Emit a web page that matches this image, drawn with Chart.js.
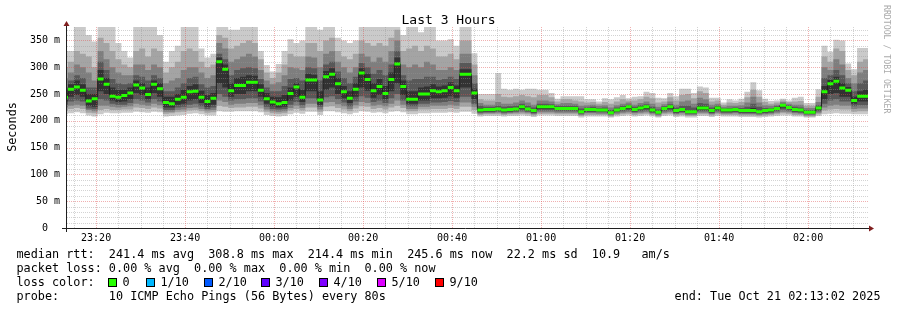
<!DOCTYPE html>
<html><head><meta charset="utf-8">
<script src="https://cdn.jsdelivr.net/npm/chart.js@4/dist/chart.umd.min.js"></script>
<style>html,body{margin:0;padding:0;background:#fff;}canvas{display:block;}</style>
</head><body>
<canvas id="c" width="897" height="310"></canvas>
<script>
// ---------- text ----------
const chartTitle = 'Last 3 Hours';
const yAxisTitle = 'Seconds';
const watermark = 'RRDTOOL / TOBI OETIKER';
// ---------- axes (x in minutes relative to 00:00 on Oct 21) ----------
const xAxisMin = -46.54, xAxisMax = 133.46;
const xTicks = [-40, -20, 0, 20, 40, 60, 80, 100, 120];
const xTickLabels = ['23:20', '23:40', '00:00', '00:20', '00:40', '01:00', '01:20', '01:40', '02:00'];
const yAxisMax = 375;
const yTicks = [0, 50, 100, 150, 200, 250, 300, 350];
const yTickLabels = ['0  ', '50 m', '100 m', '150 m', '200 m', '250 m', '300 m', '350 m'];
const firstSampleStart = -47.65;   // minutes, start of first (partial) 80 s sample
const sampleMinutes = 80 / 60;
// ---------- series (ms), one value per 80 s sample ----------
const median = [
244,259,263,257,237,241,278,268,246,244, 247,252,267,261,249,268,260,234,232,240,
244,254,255,244,236,242,310,296,256,266, 266,272,272,257,241,235,232,234,251,263,
244,276,276,239,282,287,269,254,242,259, 289,277,256,264,251,277,306,264,240,240,
250,250,256,254,256,262,256,287,287,252, 220,221,221,222,220,221,222,226,222,219,
226,226,226,223,223,223,223,217,221,221, 220,220,215,220,223,226,221,224,226,220,
216,223,226,219,221,217,217,224,224,219, 224,220,220,221,219,219,219,217,219,220,
223,229,225,221,220,216,216,224,254,269, 274,261,257,238,246,246];
const ping10 = [
330,330,380,380,360,348,380,380,380,345, 330,318,380,380,380,380,360,310,330,340,
380,380,380,335,318,325,380,380,370,370, 380,380,380,330,304,292,306,330,352,345,
350,380,380,370,380,380,355,350,345,350, 380,375,380,375,375,380,380,360,380,380,
365,380,375,350,350,352,340,380,380,326, 250,250,250,289,260,258,260,258,260,260,
258,258,252,241,246,246,246,246,240,240, 236,242,240,244,248,242,245,246,254,252,
243,242,252,246,260,260,252,264,262,243, 243,234,240,238,241,254,272,257,241,237,
238,241,238,243,245,233,233,259,340,329, 351,350,307,296,336,336];
const ping9 = [
300,310,330,325,320,300,355,345,330,315, 305,300,330,335,320,335,330,290,300,310,
330,335,330,310,300,305,360,355,335,340, 345,350,345,315,290,280,290,305,325,320,
320,345,345,330,350,355,330,320,315,325, 350,345,340,345,340,355,370,330,335,340,
330,340,335,320,320,325,315,350,350,305, 240,238,238,250,245,244,246,248,246,244,
248,248,244,236,240,240,238,236,234,235, 232,235,232,236,240,238,238,240,245,242,
234,236,244,238,248,250,242,255,252,236, 238,230,234,233,235,244,258,245,235,232,
234,238,235,236,237,228,228,245,320,310, 335,330,295,285,310,315];
const ping8 = [
280,290,305,300,290,275,330,315,300,290, 285,285,305,305,295,305,300,270,275,280,
295,300,300,290,280,285,345,335,310,315, 320,325,320,295,275,268,272,285,300,298,
295,320,318,300,325,330,310,300,290,300, 325,320,310,318,310,330,350,305,300,305,
300,310,305,295,295,300,295,325,325,285, 233,230,230,235,232,232,234,238,234,230,
238,238,236,231,233,233,232,228,229,230, 228,229,225,229,232,234,230,233,236,232,
226,231,236,230,236,238,232,243,240,230, 232,226,228,228,229,234,245,234,229,228,
230,235,232,230,230,224,224,235,300,295, 315,305,280,270,290,295];
const ping7 = [
262,275,285,280,262,262,310,295,278,270, 268,270,285,282,275,285,280,255,255,262,
270,280,282,268,262,265,325,315,285,295, 298,300,298,278,262,255,255,265,278,280,
275,300,298,275,305,310,292,280,270,282, 308,300,288,295,285,305,330,285,275,278,
278,282,282,276,278,282,278,308,308,270, 228,226,226,228,226,227,228,232,228,225,
232,232,231,228,228,228,228,223,225,226, 224,225,220,225,228,230,226,229,231,226,
221,227,231,225,228,228,225,233,232,225, 228,223,224,225,224,226,232,226,224,224,
227,232,229,226,225,220,220,229,280,285, 295,285,270,255,270,275];
const ping6 = [
252,268,275,268,250,250,295,280,262,258, 258,262,275,270,262,275,270,245,245,250,
258,265,268,256,248,252,318,305,270,280, 282,285,284,268,252,245,244,248,262,270,
258,288,286,255,293,298,280,265,255,270, 298,288,270,278,265,290,318,275,255,255,
262,264,268,264,266,272,266,296,296,260, 224,223,223,224,222,223,224,229,224,221,
229,229,228,225,225,225,225,219,223,223, 222,222,217,222,225,228,223,226,228,222,
218,225,228,221,224,220,220,228,227,221, 226,221,222,223,221,222,224,220,221,222,
225,230,227,223,222,218,218,226,265,276, 282,270,263,245,255,258];
const ping5 = [
236,245,248,245,228,226,255,250,238,235, 236,240,252,248,240,252,245,225,225,230,
232,238,240,233,226,230,270,262,245,250, 250,255,255,245,232,227,225,226,238,245,
235,255,255,230,258,262,250,242,233,245, 262,256,243,248,240,255,270,248,232,232,
238,238,242,242,243,246,243,262,262,240, 217,218,218,219,217,218,219,222,219,216,
222,222,222,220,220,220,220,215,218,218, 218,218,213,218,220,222,218,220,222,217,
214,220,222,216,218,215,215,220,220,216, 220,217,217,218,216,216,216,215,216,217,
220,225,222,218,217,214,214,220,240,250, 252,245,245,232,236,236];
const ping4 = [
230,236,238,236,223,222,240,238,232,230, 230,233,240,238,234,240,236,220,220,225,
226,230,232,227,222,225,250,245,238,240, 240,242,242,236,226,222,221,222,230,235,
229,242,242,226,244,246,240,234,227,236, 246,243,235,238,233,242,250,238,227,227,
232,232,234,234,235,237,235,245,245,232, 215,216,216,217,215,216,217,219,217,214,
219,219,219,218,218,218,218,213,216,216, 216,216,212,216,218,219,216,218,219,215,
212,218,219,214,216,213,213,218,218,214, 218,215,215,216,214,214,214,213,214,215,
218,221,219,216,215,212,212,218,232,238, 240,236,236,227,229,229];
const ping3 = [
225,228,230,228,220,218,228,228,226,225, 226,227,232,230,228,232,229,217,217,220,
221,224,225,222,219,220,238,235,230,232, 232,233,233,229,221,218,217,218,224,228,
224,232,232,221,234,235,231,227,222,229, 235,233,228,230,227,232,238,230,222,222,
226,226,228,228,228,230,228,234,234,226, 213,214,214,215,213,214,215,216,215,212,
216,216,216,215,215,215,215,211,214,214, 213,213,210,213,215,216,214,215,216,213,
210,215,216,212,214,211,211,215,215,212, 215,213,213,214,212,212,212,211,212,213,
215,217,216,214,213,210,210,215,225,228, 230,228,228,222,223,223];
const ping2 = [
219,222,224,222,215,214,220,222,220,220, 221,221,225,224,222,225,223,213,214,216,
217,219,220,218,215,216,228,226,224,225, 225,226,226,223,217,214,213,214,219,222,
219,225,225,217,226,227,224,221,218,223, 227,226,222,224,221,225,228,224,218,218,
221,221,222,222,222,224,222,226,226,220, 211,212,212,212,211,212,212,213,212,210,
213,213,213,212,212,212,212,209,211,211, 211,211,208,211,212,213,211,212,213,211,
208,212,213,210,211,209,209,212,212,210, 212,211,211,211,210,210,210,209,210,211,
212,214,213,211,211,208,208,212,219,221, 222,221,221,217,218,218];
const ping1 = [
212,214,216,214,210,208,212,215,214,214, 215,215,217,216,215,217,216,208,209,210,
211,213,214,212,210,210,218,217,217,218, 218,218,218,216,211,209,208,209,212,215,
213,217,217,211,218,218,216,214,212,215, 218,217,215,216,214,217,218,216,212,212,
214,214,215,215,215,216,215,217,217,213, 208,209,209,209,208,209,209,210,209,207,
210,210,210,209,209,209,209,206,208,208, 208,208,206,208,209,210,208,209,210,208,
206,209,210,207,208,206,206,209,209,207, 209,208,208,208,207,207,207,206,207,208,
209,210,210,208,208,206,206,209,212,213, 214,213,213,212,212,212];
// ---------- legend ----------
const legendLines = [
  'median rtt:  241.4 ms avg  308.8 ms max  214.4 ms min  245.6 ms now  22.2 ms sd  10.9   am/s',
  'packet loss: 0.00 % avg  0.00 % max  0.00 % min  0.00 % now',
  'loss color:',
  'probe:       10 ICMP Echo Pings (56 Bytes) every 80s'
];
const lossLabels = ['0', '1/10', '2/10', '3/10', '4/10', '5/10', '9/10'];
const lossColors = ['#26ff00', '#00b8ff', '#0059ff', '#5e00ff', '#7e00ff', '#dd00ff', '#ff0000'];
const endLabel = 'end: Tue Oct 21 02:13:02 2025';

// ---------- build ----------
const N = median.length;
const times = [];
for (let i = 0; i <= N; i++) times.push(firstSampleStart + i * sampleMinutes);
function stepSeries(vals) {
  const d = vals.map((v, i) => ({ x: times[i], y: v }));
  d.push({ x: times[N], y: vals[N - 1] });
  return d;
}
function medianBars(vals) {
  const d = [];
  vals.forEach((v, i) => { d.push({ x: times[i], y: v }, { x: times[i + 1], y: v }, { x: times[i + 1], y: null }); });
  return d;
}
const bandPairs = [[ping1, ping10], [ping2, ping9], [ping3, ping8], [ping4, ping7], [ping5, ping6]];
const bandColors = ['#cacaca', '#a4a4a4', '#7e7e7e', '#585858', '#323232'];
const datasets = [
  { label: 'median loss 0', data: medianBars(median), borderColor: '#26ff00', borderWidth: 3, pointRadius: 0, spanGaps: false, fill: false, order: 0, borderCapStyle: 'butt', clip: 0 },
  { label: 'median', data: stepSeries(median), stepped: true, borderColor: '#202020', borderWidth: 1, pointRadius: 0, fill: false, order: 1, clip: 0 }
];
bandPairs.forEach((pair, b) => {
  const lowIdx = datasets.length;
  datasets.push({ label: 'lo' + b, data: stepSeries(pair[0]), stepped: true, borderColor: 'rgba(0,0,0,0)', borderWidth: 1, pointRadius: 0, fill: false, order: 30 + b, clip: 0 });
  datasets.push({ label: 'hi' + b, data: stepSeries(pair[1]), stepped: true, borderColor: 'rgba(0,0,0,0)', borderWidth: 1, pointRadius: 0, fill: { target: lowIdx }, backgroundColor: bandColors[b], order: 10 - b, clip: 0 });
});
const GRID_AFTER = datasets.length - 1;

const MONO = '"DejaVu Sans Mono", monospace';
function drawGrid(chart) {
  const { ctx, chartArea: a, scales: { x, y } } = chart;
  ctx.save();
  ctx.lineWidth = 1;
  ctx.setLineDash([1, 1]);
  const minor = 'rgba(150,150,150,0.42)', major = 'rgba(222,79,79,0.45)';
  for (let v = 10; v < yAxisMax; v += 10) {
    const py = Math.round(y.getPixelForValue(v)) + 0.5;
    ctx.strokeStyle = v % 50 === 0 ? major : minor;
    ctx.beginPath(); ctx.moveTo(a.left, py); ctx.lineTo(a.right, py); ctx.stroke();
  }
  for (let t = -45; t < xAxisMax; t += 5) {
    const px = Math.round(x.getPixelForValue(t)) + 0.5;
    ctx.strokeStyle = t % 20 === 0 ? major : minor;
    ctx.beginPath(); ctx.moveTo(px, a.top); ctx.lineTo(px, a.bottom); ctx.stroke();
  }
  ctx.restore();
}
function drawAxes(chart) {
  const { ctx, chartArea: a } = chart;
  ctx.save();
  ctx.strokeStyle = '#1f1f1f'; ctx.lineWidth = 1;
  ctx.beginPath(); ctx.moveTo(a.left - 5, a.bottom + 0.5); ctx.lineTo(a.right + 1, a.bottom + 0.5); ctx.stroke();
  ctx.beginPath(); ctx.moveTo(a.left - 0.5, a.bottom + 4); ctx.lineTo(a.left - 0.5, a.top - 1); ctx.stroke();
  ctx.fillStyle = '#801f1f';
  ctx.beginPath(); ctx.moveTo(a.left - 0.5, a.top - 6); ctx.lineTo(a.left - 3.5, a.top - 1); ctx.lineTo(a.left + 2.5, a.top - 1); ctx.closePath(); ctx.fill();
  ctx.beginPath(); ctx.moveTo(a.right + 6, a.bottom + 0.5); ctx.lineTo(a.right + 1, a.bottom - 2.5); ctx.lineTo(a.right + 1, a.bottom + 3.5); ctx.closePath(); ctx.fill();
  ctx.restore();
}
function drawTexts(chart) {
  const ctx = chart.ctx;
  ctx.save();
  ctx.fillStyle = '#000';
  ctx.textBaseline = 'alphabetic';
  ctx.font = '13px ' + MONO;
  ctx.textAlign = 'center';
  ctx.fillText(chartTitle, 448.5, 24);
  const LF = '11.8px ' + MONO;
  ctx.font = LF;
  ctx.save(); ctx.translate(16, 127); ctx.rotate(-Math.PI / 2); ctx.textAlign = 'center'; ctx.fillText(yAxisTitle, 0, 0); ctx.restore();
  ctx.textAlign = 'left';
  const baselines = [258, 272, 286, 300];
  legendLines.forEach((s, i) => ctx.fillText(s, 16.5, baselines[i]));
  const boxX = [108.5, 146.5, 204.5, 261.5, 319.5, 377.5, 435.5];
  lossLabels.forEach((lab, i) => {
    ctx.fillStyle = lossColors[i];
    ctx.fillRect(boxX[i], 278.5, 8, 8);
    ctx.strokeStyle = '#000'; ctx.lineWidth = 1; ctx.strokeRect(boxX[i], 278.5, 8, 8);
    ctx.fillStyle = '#000';
    ctx.fillText(lab, boxX[i] + 14, 286);
  });
  ctx.textAlign = 'right';
  ctx.fillText(endLabel, 880.5, 300);
  ctx.fillStyle = '#aaaaaa';
  ctx.font = '8.2px ' + MONO;
  ctx.save(); ctx.translate(884, 5); ctx.rotate(Math.PI / 2); ctx.textAlign = 'left'; ctx.fillText(watermark, 0, 0); ctx.restore();
  ctx.restore();
}
const decor = {
  id: 'decor',
  afterDatasetDraw(chart, args) { if (args.index === GRID_AFTER) drawGrid(chart); },
  afterDatasetsDraw(chart) { drawAxes(chart); },
  afterDraw(chart) { drawTexts(chart); }
};

new Chart(document.getElementById('c'), {
  type: 'line',
  data: { datasets },
  plugins: [decor],
  options: {
    responsive: false, animation: false, devicePixelRatio: 1,
    layout: { padding: { left: 0, right: 29, top: 27, bottom: 0 } },
    elements: { line: { tension: 0 } },
    plugins: { legend: { display: false }, title: { display: false }, tooltip: { enabled: false }, filler: { propagate: false } },
    scales: {
      x: {
        type: 'linear', min: xAxisMin, max: xAxisMax,
        afterFit(s) { s.height = 82; },
        afterBuildTicks(s) { s.ticks = xTicks.map(v => ({ value: v })); },
        ticks: { callback: v => xTickLabels[xTicks.indexOf(v)] || '', font: { family: MONO, size: 10 }, color: '#000', padding: 4, maxRotation: 0, minRotation: 0, autoSkip: false },
        grid: { display: false, drawTicks: false }, border: { display: false }
      },
      y: {
        type: 'linear', min: 0, max: yAxisMax,
        afterFit(s) { s.width = 67; },
        afterBuildTicks(s) { s.ticks = yTicks.map(v => ({ value: v })); },
        ticks: { callback: v => yTickLabels[yTicks.indexOf(v)] || '', font: { family: MONO, size: 10 }, color: '#000', padding: 7, autoSkip: false },
        grid: { display: false, drawTicks: false }, border: { display: false }
      }
    }
  }
});
</script>
</body></html>
